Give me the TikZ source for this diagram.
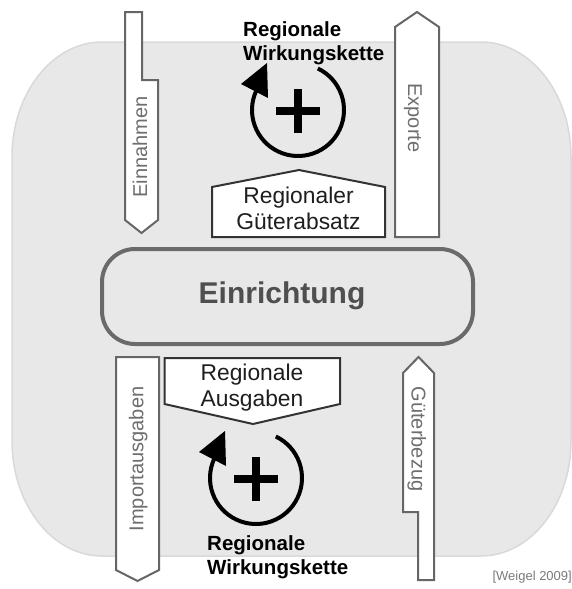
\documentclass[tikz,border=0pt]{standalone}
\usepackage{fontspec}
\setmainfont{Liberation Sans}
\definecolor{bgfill}{HTML}{E8E8E8}
\definecolor{bgline}{HTML}{D9D9D9}
\definecolor{flowline}{HTML}{666666}
\definecolor{flowtextcol}{HTML}{6E6E6E}
\definecolor{unitline}{HTML}{6A6A6A}
\definecolor{unittext}{HTML}{4F4F4F}
\definecolor{gateline}{HTML}{333333}
\definecolor{gatetextcol}{HTML}{1E1E1E}
\definecolor{sourcecol}{HTML}{7A7A7A}
\begin{document}
\begin{tikzpicture}[x=1pt,y=-1pt,
  flow/.style={draw=flowline, fill=white, line width=2pt, line join=miter},
  flowlabel/.style={text=flowtextcol, font=\fontsize{20}{24}\selectfont, inner sep=0pt, anchor=base},
  gate/.style={draw=gateline, fill=white, line width=2pt, line join=miter},
  gatelabel/.style={text=gatetextcol, font=\fontsize{22.8}{26}\selectfont, align=center, inner sep=0pt, anchor=north},
  loopline/.style={line width=4pt, black},
  looplabel/.style={font=\bfseries\fontsize{20.5}{23.5}\selectfont, align=left, inner sep=0pt, anchor=north west},
]
\useasboundingbox (0,0) rectangle (572,589);

% region background with elliptical corners
\path[draw=bgline, fill=bgfill, line width=1.5pt]
  (102,42) -- (481,42) arc[start angle=-90, end angle=0, x radius=90, y radius=115]
  -- (571,441) arc[start angle=0, end angle=90, x radius=90, y radius=115]
  -- (102,556) arc[start angle=90, end angle=180, x radius=90, y radius=115]
  -- (12,157) arc[start angle=180, end angle=270, x radius=90, y radius=115]
  -- cycle;

% money and goods flows
\draw[flow] (125,12) -- (142,12) -- (142,80) -- (158,80) -- (158,220) -- (141.5,233) -- (125,220) -- cycle;
\node[flowlabel, rotate=90] (einnahmen) at (147,147) {Einnahmen};

\draw[flow] (395,237) -- (395,27) -- (417,12) -- (439,27) -- (439,237) -- cycle;
\node[flowlabel, rotate=-90] (exporte) at (408,118) {Exporte};

\draw[flow] (116,357) -- (159,357) -- (159,570) -- (137.5,581) -- (116,570) -- cycle;
\node[flowlabel, rotate=90] (import) at (143.3,459) {Importausgaben};

\draw[flow] (403,373) -- (418.5,357) -- (434,373) -- (434,580) -- (418,580) -- (418,512) -- (403,512) -- cycle;
\node[flowlabel, rotate=-90] (bezug) at (411.7,439) {Güterbezug};

% central unit
\draw[draw=unitline, fill=bgfill, line width=4pt, rounded corners=33pt] (102,249) rectangle (473,344);
\node[text=unittext, font=\bfseries\fontsize{30}{36}\selectfont, inner sep=0pt] (einrichtung) at (282,296) {Einrichtung};

% regional sales and spending
\draw[gate] (212,237) -- (212,187) -- (299,170) -- (385,187) -- (385,237) -- cycle;
\node[gatelabel] (absatz) at (298.5,186.5) {Regionaler\\Güterabsatz};

\draw[gate] (164.5,358) -- (340,358) -- (340,404) -- (253,424) -- (164.5,404) -- cycle;
\node[gatelabel] (ausgaben) at (252,364) {Regionale\\Ausgaben};

% reinforcing loops
\coordinate (loopA) at (298,110);
\draw[loopline] (loopA) ++(-64.5:46) arc[start angle=-64.5, end angle=205, radius=46];
\begin{scope}[shift={(loopA)}]
  \fill (-57,-26) -- (-31,-47) -- (-30,-12) -- cycle;
  \draw[line width=8pt] (-22,1) -- (22,1);
  \draw[line width=8pt] (0,-21) -- (0,23);
\end{scope}
\node[looplabel] (kette1) at (243,21.5) {Regionale\\Wirkungskette};

\coordinate (loopB) at (256,478);
\draw[loopline] (loopB) ++(-64.5:46) arc[start angle=-64.5, end angle=205, radius=46];
\begin{scope}[shift={(loopB)}]
  \fill (-57,-26) -- (-31,-47) -- (-30,-12) -- cycle;
  \draw[line width=8pt] (-22,1) -- (22,1);
  \draw[line width=8pt] (0,-21) -- (0,23);
\end{scope}
\node[looplabel] (kette2) at (207,535.5) {Regionale\\Wirkungskette};

% source
\node[text=sourcecol, font=\fontsize{13}{15}\selectfont, inner sep=0pt, anchor=base east] (quelle) at (572,580) {[Weigel 2009]};
\end{tikzpicture}
\end{document}
